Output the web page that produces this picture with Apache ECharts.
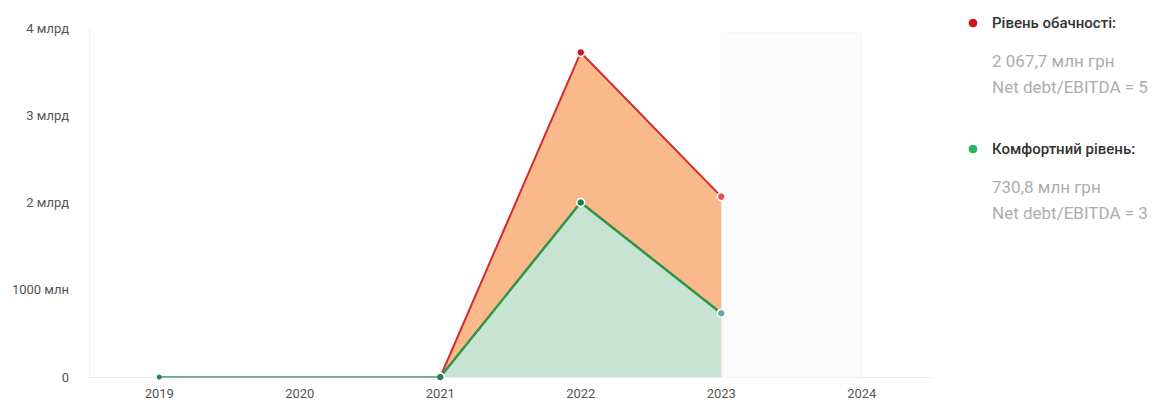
<!DOCTYPE html>
<html>
<head>
<meta charset="utf-8">
<script src="https://cdn.jsdelivr.net/npm/echarts@6/dist/echarts.min.js"></script>
<style>
html,body{margin:0;padding:0;background:#fff;}
#chart{width:1157px;height:401px;}
</style>
</head>
<body>
<div id="chart"></div>
<script>
// ---- data (values in millions of UAH) ----
const years = ['2019', '2020', '2021', '2022', '2023', '2024'];
const cautionLevel = [null, null, 0, 3720, 2067.7, null];      // Рівень обачності
const comfortLevel = [null, null, 0, 2000, 730.8, null];       // Комфортний рівень
const baseline = [0, 0, 0, null, null, null];                  // earlier years
const yTicks = [0, 1000, 2000, 3000, 4000];
const legendNames = ['Рівень обачності:', 'Комфортний рівень:'];
const legendValues = [2067.7, 730.8];
const legendRatios = [5, 3];
const addLabel = 'Додати';

function fmtMln(v) {
  const parts = v.toFixed(1).split('.');
  const intPart = parts[0].replace(/\B(?=(\d{3})+(?!\d))/g, ' ');
  return intPart + ',' + parts[1] + ' млн грн';
}
function fmtAxis(v) {
  if (v === 0) return '0';
  if (v < 2000) return v + ' млн';
  return (v / 1000) + ' млрд';
}

const FONT = 'Roboto, "Noto Sans", sans-serif';
const chart = echarts.init(document.getElementById('chart'), null, { renderer: 'svg' });

const legendColors = ['#d0141f', '#2db35d'];
const legendY = [23, 149];
const graphics = [];
legendNames.forEach((name, i) => {
  const y0 = legendY[i];
  graphics.push({ type: 'circle', x: 973, y: y0, shape: { cx: 0, cy: 0, r: 4.3 }, style: { fill: legendColors[i] } });
  graphics.push({ type: 'text', x: 992, y: y0, style: { text: name, font: '500 15px ' + FONT, fill: '#333', textVerticalAlign: 'middle' } });
  graphics.push({ type: 'text', x: 992, y: y0 + 38, style: { text: fmtMln(legendValues[i]), font: '17px ' + FONT, fill: '#adadad', textVerticalAlign: 'middle' } });
  graphics.push({ type: 'text', x: 992, y: y0 + 64, style: { text: 'Net debt/EBITDA = ' + legendRatios[i], font: '17px ' + FONT, fill: '#adadad', textVerticalAlign: 'middle' } });
});
graphics.push({ type: 'text', x: 750, y: 203, style: { text: '⊕ ' + addLabel, font: '16px ' + FONT, fill: '#3f86c4', textVerticalAlign: 'middle' } });

chart.setOption({
  animation: false,
  grid: { left: 89, top: 28, right: 225, bottom: 24 },
  xAxis: {
    type: 'category',
    data: years,
    boundaryGap: true,
    axisLine: { show: true, lineStyle: { color: '#ececec', width: 1 } },
    axisTick: { show: false },
    axisLabel: { color: '#555', fontFamily: FONT, fontSize: 13, margin: 10 },
    splitLine: { show: false }
  },
  yAxis: {
    type: 'value',
    min: 0, max: 4000, interval: 1000,
    axisLine: { show: true, lineStyle: { color: '#f0f0f0', width: 1 } },
    axisTick: { show: false },
    splitLine: { show: false },
    axisLabel: { color: '#555', fontFamily: FONT, fontSize: 13, margin: 20, formatter: fmtAxis }
  },
  graphic: graphics,
  series: [
    {
      name: 'bg',
      type: 'line',
      data: [],
      silent: true,
      markArea: {
        silent: true,
        itemStyle: { color: '#fbfbfb', borderColor: '#f5f5f5', borderWidth: 1 },
        data: [[{ xAxis: '2023', yAxis: 3950 }, { xAxis: '2024', yAxis: 0 }]]
      },
      z: 0
    },
    {
      name: legendNames[0],
      type: 'line',
      data: cautionLevel.map((v, i) => v === null ? null : { value: v, itemStyle: i === 4 ? { color: '#de5363' } : undefined }),
      symbol: 'circle',
      symbolSize: 8,
      lineStyle: { color: '#d42a30', width: 2 },
      itemStyle: { color: '#d0141f', borderColor: '#fff', borderWidth: 1.5 },
      areaStyle: { color: '#f9b98a', opacity: 1 },
      z: 2
    },
    {
      name: legendNames[1],
      type: 'line',
      data: comfortLevel.map((v, i) => v === null ? null : { value: v, itemStyle: i === 4 ? { color: '#6fa9a4' } : undefined }),
      symbol: 'circle',
      symbolSize: 8,
      lineStyle: { color: '#2f9445', width: 2.5 },
      itemStyle: { color: '#1e7a4a', borderColor: '#fff', borderWidth: 1.5 },
      areaStyle: { color: '#c6e4d1', opacity: 1 },
      z: 3
    },
    {
      name: 'baseline',
      type: 'line',
      data: baseline.map((v, i) => v === null ? null : (i === 1 ? { value: v, symbol: 'none' } : v)),
      symbol: 'circle',
      symbolSize: 5,
      lineStyle: { color: '#3d8a6a', width: 1.5 },
      itemStyle: { color: '#2e7d5d' },
      z: 4
    }
  ]
});
</script>
</body>
</html>
